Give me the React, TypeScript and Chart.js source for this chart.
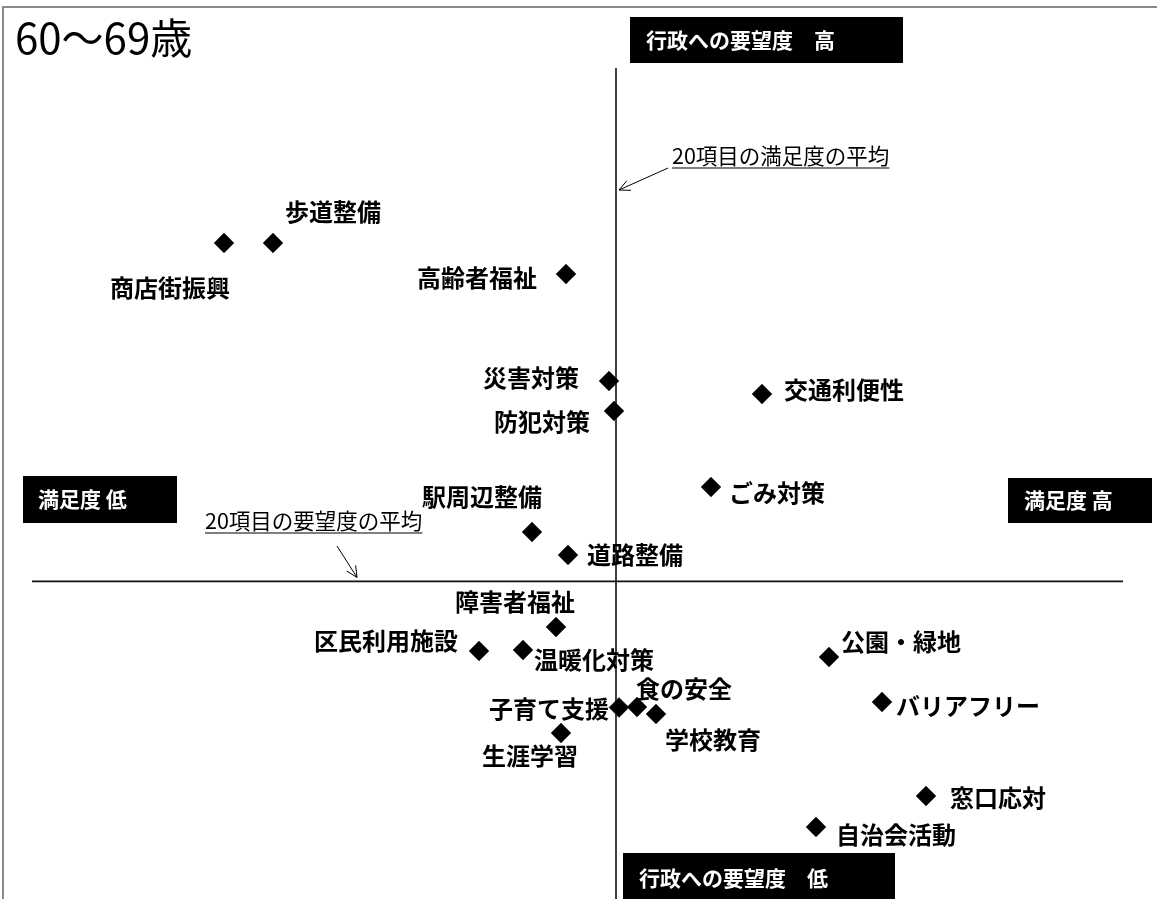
import { useEffect, useRef } from "react";
import { Chart, registerables } from "chart.js";

Chart.register(...registerables);

// ---- data ----
const items = [
  "商店街振興", "歩道整備", "高齢者福祉", "災害対策", "防犯対策",
  "交通利便性", "ごみ対策", "駅周辺整備", "道路整備", "障害者福祉",
  "区民利用施設", "温暖化対策", "公園・緑地", "バリアフリー", "子育て支援",
  "食の安全", "学校教育", "生涯学習", "窓口応対", "自治会活動",
];
// 満足度 (x)
const satisfaction = [
  2.424, 2.473, 2.766, 2.809, 2.814,
  2.962, 2.911, 2.732, 2.768, 2.756,
  2.679, 2.723, 3.029, 3.082, 2.819,
  2.837, 2.856, 2.761, 3.126, 3.016,
];
// 行政への要望度 (y)
const demand = [
  32.8, 32.8, 31.25, 25.9, 24.4,
  25.25, 20.6, 18.35, 17.2, 13.6,
  12.4, 12.45, 12.1, 9.85, 9.58,
  9.6, 9.25, 8.3, 5.15, 3.6,
];
const avgSatisfaction = 2.816;
const avgDemand = 15.88;
const xRange = [2.2, 3.357];
const yRange = [0, 44.95];

const titleText = "60〜69歳";
const demandHigh = "行政への要望度　高";
const demandLow = "行政への要望度　低";
const satLow = "満足度 低";
const satHigh = "満足度 高";
const satAvgNote = "20項目の満足度の平均";
const demandAvgNote = "20項目の要望度の平均";

// label placement (text centre offset from the marker, px)
const labelOffsets: [number, number][] = [
  [-54, 45], [60, -31], [-89, 4], [-78, -3], [-72, 11],
  [82, -4], [66, 6], [-50, -35], [67, 0], [-41, -25],
  [-93, -10], [71, 10], [72, -15], [86, 4], [-70, 1],
  [47, -18], [57, 26], [-31, 23], [72, 2], [80, 8],
];

const W = 1157;
const H = 899;
const JP = '"Noto Sans CJK JP", "Noto Sans", sans-serif';

function blackBox(ctx: CanvasRenderingContext2D, x: number, y: number, w: number, h: number, text: string, tx: number) {
  ctx.fillStyle = "#000";
  ctx.fillRect(x, y, w, h);
  ctx.fillStyle = "#fff";
  ctx.font = `bold 21px ${JP}`;
  ctx.textAlign = "left";
  ctx.textBaseline = "middle";
  ctx.fillText(text, tx, y + h / 2);
}

function underlined(ctx: CanvasRenderingContext2D, text: string, x: number, cy: number, uy: number) {
  ctx.fillStyle = "#000";
  ctx.font = `21.5px ${JP}`;
  ctx.textAlign = "left";
  ctx.textBaseline = "middle";
  ctx.fillText(text, x, cy);
  const w = ctx.measureText(text).width;
  ctx.strokeStyle = "#000";
  ctx.lineWidth = 1.2;
  ctx.beginPath();
  ctx.moveTo(x, uy);
  ctx.lineTo(x + w, uy);
  ctx.stroke();
}

function arrow(ctx: CanvasRenderingContext2D, x1: number, y1: number, x2: number, y2: number) {
  ctx.strokeStyle = "#000";
  ctx.lineWidth = 1;
  ctx.beginPath();
  ctx.moveTo(x1, y1);
  ctx.lineTo(x2, y2);
  const a = Math.atan2(y2 - y1, x2 - x1);
  const L = 12;
  const s = 0.45;
  ctx.moveTo(x2 - L * Math.cos(a - s), y2 - L * Math.sin(a - s));
  ctx.lineTo(x2, y2);
  ctx.lineTo(x2 - L * Math.cos(a + s), y2 - L * Math.sin(a + s));
  ctx.stroke();
}

const decor = {
  id: "decor",
  beforeDatasetsDraw(chart: any) {
    const ctx: CanvasRenderingContext2D = chart.ctx;
    const xs = chart.scales.x;
    const ys = chart.scales.y;
    ctx.save();
    // outer frame (cropped)
    ctx.strokeStyle = "#8a8a8a";
    ctx.lineWidth = 2;
    ctx.beginPath();
    ctx.moveTo(3, H);
    ctx.lineTo(3, 7);
    ctx.lineTo(W, 7);
    ctx.stroke();

    // title
    ctx.fillStyle = "#000";
    ctx.font = `42px ${JP}`;
    ctx.textAlign = "left";
    ctx.textBaseline = "alphabetic";
    ctx.fillText(titleText, 15, 54);

    // average lines
    const vx = xs.getPixelForValue(avgSatisfaction);
    const hy = ys.getPixelForValue(avgDemand);
    ctx.strokeStyle = "#111";
    ctx.lineWidth = 1.6;
    ctx.beginPath();
    ctx.moveTo(vx, 68);
    ctx.lineTo(vx, H);
    ctx.moveTo(32, hy);
    ctx.lineTo(1123, hy);
    ctx.stroke();

    // boxes
    blackBox(ctx, 630, 17, 273, 46, demandHigh, 646);
    blackBox(ctx, 23, 476, 154, 47, satLow, 38);
    blackBox(ctx, 1008, 478, 144, 45, satHigh, 1024);
    blackBox(ctx, 623, 853, 272, 50, demandLow, 639);

    // average notes
    underlined(ctx, satAvgNote, 672, 156, 168);
    arrow(ctx, 668, 168, vx + 3, 190);
    underlined(ctx, demandAvgNote, 205, 521, 533);
    arrow(ctx, 337, 546, 357, hy - 4);
    ctx.restore();
  },
  afterDatasetsDraw(chart: any) {
    const ctx: CanvasRenderingContext2D = chart.ctx;
    const meta = chart.getDatasetMeta(0);
    ctx.save();
    ctx.fillStyle = "#000";
    ctx.font = `bold 24px ${JP}`;
    ctx.textAlign = "center";
    ctx.textBaseline = "middle";
    meta.data.forEach((pt: any, i: number) => {
      const [dx, dy] = labelOffsets[i];
      ctx.fillText(items[i], pt.x + dx, pt.y + dy);
    });
    ctx.restore();
  },
};

export default function App() {
  const ref = useRef<HTMLCanvasElement | null>(null);
  useEffect(() => {
    if (!ref.current) return;
    const chart = new Chart(ref.current, {
      type: "scatter",
      data: {
        datasets: [
          {
            label: "items",
            data: items.map((_, i) => ({ x: satisfaction[i], y: demand[i] })),
            pointStyle: "rectRot",
            pointRadius: 10,
            pointHoverRadius: 10,
            pointBackgroundColor: "#000",
            pointBorderColor: "#222",
            pointBorderWidth: 0.5,
          },
        ],
      },
      options: {
        responsive: false,
        animation: false,
        devicePixelRatio: 1,
        layout: { padding: 0, autoPadding: false },
        plugins: { legend: { display: false }, tooltip: { enabled: false } },
        scales: {
          x: { type: "linear", display: false, min: xRange[0], max: xRange[1] },
          y: { type: "linear", display: false, min: yRange[0], max: yRange[1] },
        },
      },
      plugins: [decor],
    });
    return () => chart.destroy();
  }, []);
  return (
    <div style={{ position: "fixed", left: 0, top: 0, width: W, height: H, background: "#fff" }}>
      <canvas ref={ref} width={W} height={H} style={{ display: "block" }} />
    </div>
  );
}
